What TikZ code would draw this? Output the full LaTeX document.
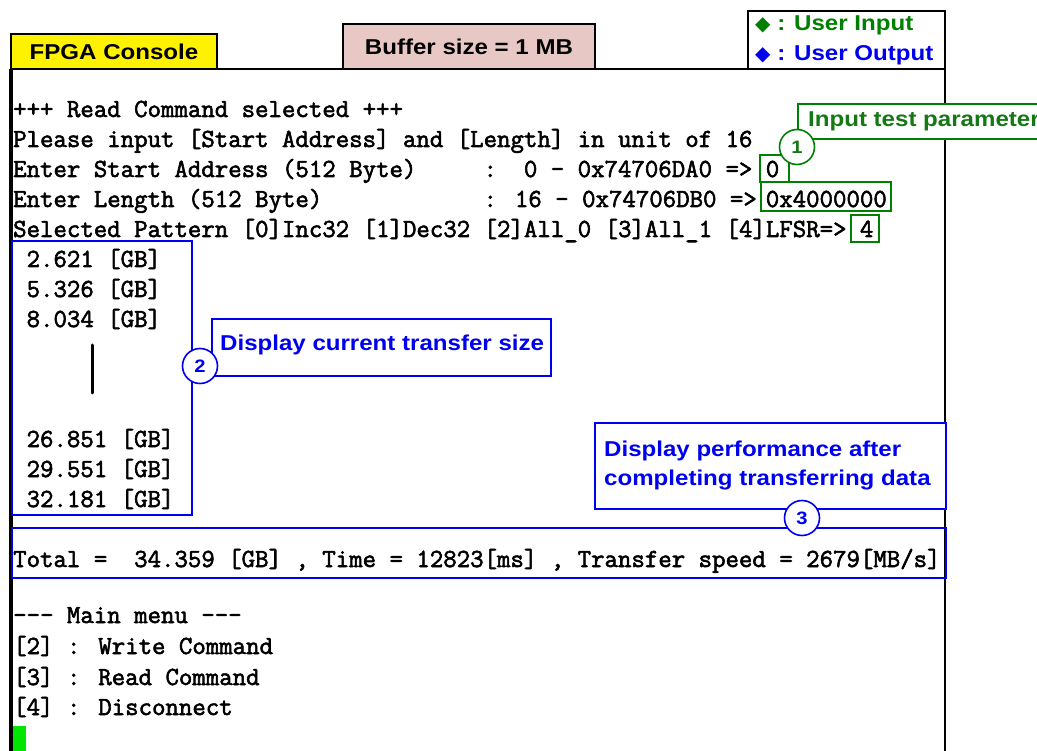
\documentclass[tikz,border=0pt]{standalone}
\usepackage{fontspec}
\setmainfont{Liberation Sans}[FakeStretch=1.12]
\newfontfamily\symfont{DejaVu Sans}
\newfontfamily\cmono{Latin Modern Mono}[FakeBold=2.2]
\definecolor{ingreen}{RGB}{0,128,0}
\definecolor{txtgreen}{RGB}{20,120,20}
\definecolor{outblue}{RGB}{0,0,240}
\definecolor{pinkbuf}{RGB}{232,200,196}
\definecolor{cursorgreen}{RGB}{0,230,0}
\tikzset{
  mono/.style={font=\cmono\fontsize{26.1pt}{26pt}\selectfont, inner sep=0pt, anchor=base west},
  frame/.style={draw=black, line width=1.8pt},
  hdr/.style={font=\bfseries\fontsize{21.5pt}{24pt}\selectfont},
  gbox/.style={draw=ingreen, line width=1.6pt, inner sep=0pt},
  bbox/.style={draw=outblue, line width=1.6pt},
  numc/.style={circle, draw, fill=white, line width=1.6pt, minimum size=35pt, inner sep=0pt, font=\bfseries\fontsize{18pt}{18pt}\selectfont},
  lbl/.style={font=\bfseries\fontsize{21.5pt}{29pt}\selectfont, inner sep=0pt, anchor=west, align=left}
}
\begin{document}
\begin{tikzpicture}[x=1pt,y=-1pt]
\useasboundingbox (0,0) rectangle (1037,751);
\clip (0,0) rectangle (1037,751);
\def\cw{13.44}
% header boxes
\node[frame, hdr, fill=yellow, minimum width=206pt, minimum height=35pt, inner sep=0pt] (fpga) at (114,51.5) {FPGA Console};
\node[frame, hdr, fill=pinkbuf, minimum width=252pt, minimum height=45pt, inner sep=0pt] (buf) at (469,46.5) {Buffer size = 1 MB};
\node[frame, fill=white, minimum width=197pt, minimum height=58pt, inner sep=0pt] (legend) at (846.5,40) {};
\node[hdr, anchor=west, inner sep=0pt, text=ingreen] (lin) at (755,25) {{\symfont\fontsize{20pt}{20pt}\selectfont ◆} : User Input};
\node[hdr, anchor=west, inner sep=0pt, text=outblue] (lout) at (755,55) {{\symfont\fontsize{20pt}{20pt}\selectfont ◆} : User Output};
% console frame
\coordinate (cTL) at (11,69);
\coordinate (cTR) at (945,69);
\coordinate (cBL) at (11,760);
\coordinate (cBR) at (945,760);
\draw[black, line width=2pt] (cBR) -- (cTR) -- (cTL);
\draw[black, line width=3.2pt] (cTL) -- (cBL);
% console text
\node[mono] (t1) at (13,117) {+++ Read Command selected +++};
\node[mono] (t2) at (13,147) {Please input [Start Address] and [Length] in unit of 16};
\node[mono] (t3a) at (13,177) {Enter Start Address (512 Byte)};
\node[mono] (t3b) at ({13+35*\cw},177) {:};
\node[mono] (t3c) at ({13+38*\cw},177) {0 - 0x74706DA0 =>};
\node[mono] (t4a) at (13,207) {Enter Length (512 Byte)};
\node[mono] (t4b) at ({13+35*\cw},207) {: 16 - 0x74706DB0 =>};
\node[mono] (t5) at (13,237) {Selected Pattern [0]Inc32 [1]Dec32 [2]All\_0 [3]All\_1 [4]LFSR=>};
% input boxes
\node[gbox, minimum width=29pt, minimum height=27pt] (v1) at (774.5,168.5) {};
\node[mono] at ({13+56*\cw},177) {0};
\node[gbox, minimum width=130pt, minimum height=29pt] (v2) at (826,196.5) {};
\node[mono] at ({13+56*\cw},207) {0x4000000};
\node[gbox, minimum width=28pt, minimum height=27pt] (v3) at (865,228.5) {};
\node[mono] at ({13+63*\cw},237) {4};
% param label
\node[gbox, fill=white, minimum width=260pt, minimum height=35pt, anchor=north west] (plbl) at (797,103) {};
\node[lbl, text=txtgreen] (ptxt) at (808,121) {Input test parameter};
\node[numc, draw=ingreen, text=txtgreen] (c1) at (797,147) {1};
% transfer list
\node[bbox, minimum width=180pt, minimum height=274pt, anchor=north west, inner sep=0pt] (list) at (11,240) {};
\node[mono] (n1) at ({13+\cw},267) {2.621 [GB]};
\node[mono] (n2) at ({13+\cw},297) {5.326 [GB]};
\node[mono] (n3) at ({13+\cw},327) {8.034 [GB]};
\coordinate (vb1) at (92,345);
\coordinate (vb2) at (92,393);
\draw[black, line width=3pt, line cap=round] (vb1) -- (vb2);
\node[mono] (n4) at ({13+\cw},447) {26.851 [GB]};
\node[mono] (n5) at ({13+\cw},477) {29.551 [GB]};
\node[mono] (n6) at ({13+\cw},507) {32.181 [GB]};
\node[bbox, fill=white, minimum width=339pt, minimum height=57pt, anchor=north west, inner sep=0pt] (l2) at (211,318) {};
\node[lbl, text=outblue] (l2t) at (220,345) {Display current transfer size};
\node[numc, draw=outblue, text=outblue] (c2) at (200,366) {2};
% performance
\node[bbox, fill=white, minimum width=351pt, minimum height=86pt, anchor=north west, inner sep=0pt] (l3) at (594,422) {};
\node[lbl, text=outblue] (l3t) at (604,465) {Display performance after\\completing transferring data};
\node[bbox, minimum width=934pt, minimum height=50pt, anchor=north west, inner sep=0pt] (tot) at (11,527) {};
\node[numc, draw=outblue, text=outblue] (c3) at (802,518) {3};
\node[mono] (ta) at (13,567) {Total =};
\node[mono] (tb) at ({13+9*\cw},567) {34.359 [GB] , Time = 12823[ms] , Transfer speed = 2679[MB/s]};
% menu
\node[mono] (m1) at (13,623) {--- Main menu ---};
\node[mono] (m2) at (13,654) {[2] : Write Command};
\node[mono] (m3) at (13,685) {[3] : Read Command};
\node[mono] (m4) at (13,715) {[4] : Disconnect};
\node[fill=cursorgreen, minimum width=13pt, minimum height=26pt, inner sep=0pt, anchor=north west] (cur) at (13,726) {};
\end{tikzpicture}
\end{document}
